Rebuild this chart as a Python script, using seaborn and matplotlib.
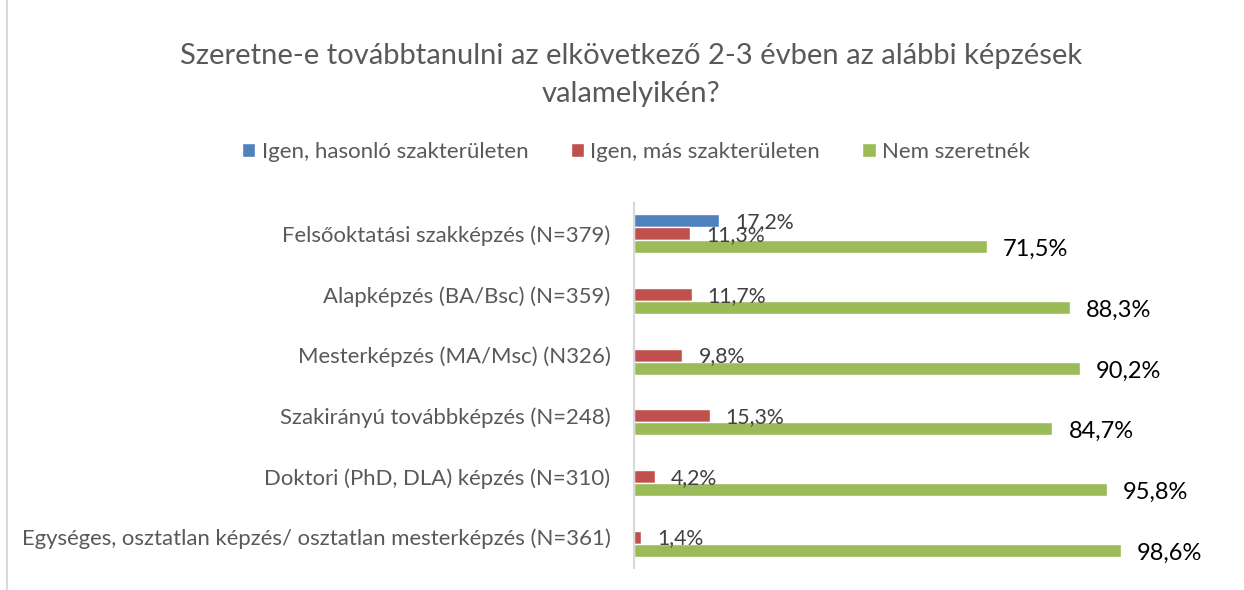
import numpy as np
import matplotlib.pyplot as plt
import pandas as pd
import seaborn as sns

categories = [
    'Felsőoktatási szakképzés (N=379)',
    'Alapképzés (BA/Bsc) (N=359)',
    'Mesterképzés (MA/Msc) (N326)',
    'Szakirányú továbbképzés (N=248)',
    'Doktori (PhD, DLA) képzés (N=310)',
    'Egységes, osztatlan képzés/ osztatlan mesterképzés (N=361)',
]
series = ['Igen, hasonló szakterületen', 'Igen, más szakterületen', 'Nem szeretnék']
hasonlo = [17.2, np.nan, np.nan, np.nan, np.nan, np.nan]
mas = [11.3, 11.7, 9.8, 15.3, 4.2, 1.4]
nem = [71.5, 88.3, 90.2, 84.7, 95.8, 98.6]
colors = ['#4f81bd', '#c0504d', '#9bbb59']

rows = []
for name, vals in zip(series, [hasonlo, mas, nem]):
    for cat, v in zip(categories, vals):
        rows.append({'cat': cat, 'series': name, 'value': v})
df = pd.DataFrame(rows)

sns.set_theme(style='white')
plt.rcParams['font.family'] = ['Lato', 'DejaVu Sans']

fig = plt.figure(figsize=(12.44, 5.90), dpi=100)
ax = fig.add_axes([634 / 1244, 1 - 567.5 / 590, (1128 - 634) / 1244, (567.5 - 203.5) / 590])

sns.barplot(data=df, x='value', y='cat', hue='series', hue_order=series,
            palette=colors, order=categories, orient='h', width=0.64,
            saturation=1, ax=ax, legend=True)

ax.set_xlim(0, 100)
ax.set_ylim(5.5, -0.5)
ax.set_xlabel('')
ax.set_ylabel('')
ax.set_xticks([])
ax.tick_params(axis='y', length=0, pad=17, labelsize=15.9, labelcolor='#595959')
for s in ['top', 'right', 'bottom']:
    ax.spines[s].set_visible(False)
ax.spines['left'].set_color('#d9d9d9')
ax.spines['left'].set_linewidth(1.5)

# value labels
for i, cont in enumerate(ax.containers):
    for p in cont.patches:
        w = p.get_width()
        if np.isnan(w) or w == 0:
            continue
        y = p.get_y() + p.get_height() / 2
        txt = f'{w:.1f}%'.replace('.', ',')
        if i == 2:
            ax.annotate(txt, (w, y), xytext=(11.5, -2), textcoords='offset points',
                        va='center', ha='left', fontsize=17, color='#000000',
                        annotation_clip=False)
        else:
            ax.annotate(txt, (w, y), xytext=(11.5, -1), textcoords='offset points',
                        va='center', ha='left', fontsize=15.3, color='#404040',
                        annotation_clip=False)

leg = ax.legend(loc='center', bbox_to_anchor=(636 / 1244, 1 - 152 / 590),
                bbox_transform=fig.transFigure, ncol=3, frameon=False,
                fontsize=16, handlelength=0.6, handleheight=0.6,
                handletextpad=0.3, columnspacing=1.9)
for t in leg.get_texts():
    t.set_color('#595959')

fig.text(631 / 1244, 1 - 75 / 590,
         'Szeretne-e továbbtanulni az elkövetkező 2-3 évben az alábbi képzések\nvalamelyikén?',
         ha='center', va='center', fontsize=21, color='#595959', linespacing=1.6)

# chart frame edge on the left
fig.add_artist(plt.Line2D([7.5 / 1244, 7.5 / 1244], [0, 1], color='#d9d9d9', lw=1.5,
                          transform=fig.transFigure))

fig.savefig('out.png', dpi=100)
